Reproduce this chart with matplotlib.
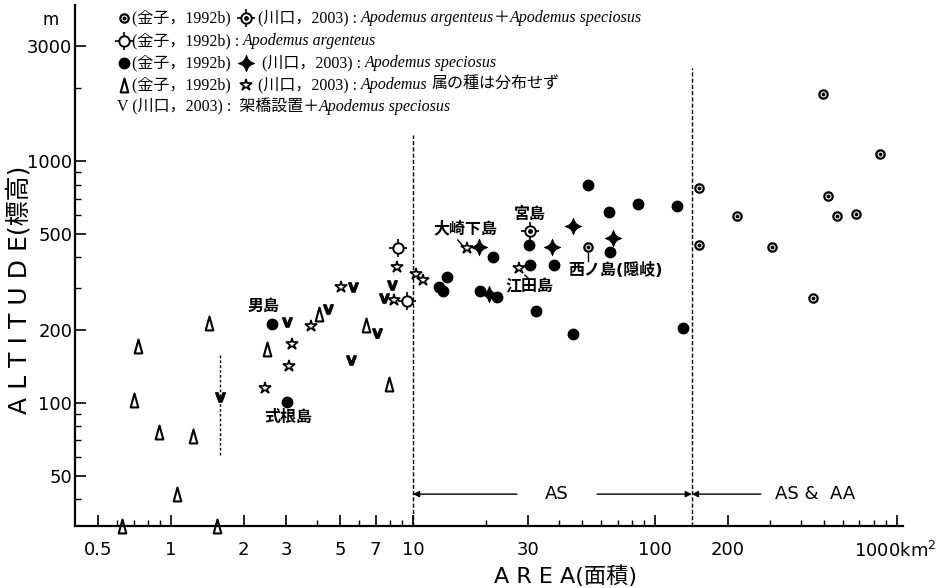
import numpy as np
import matplotlib
matplotlib.use("Agg")
import matplotlib.pyplot as plt
from matplotlib.path import Path
from matplotlib.transforms import offset_copy

jp = ['DejaVu Sans', 'Noto Sans CJK JP']
serif_jp = ['Liberation Serif', 'Noto Sans CJK JP']

# ---- data (area km2, altitude m) ----
# Kaneko 1992b : A. argenteus + A. speciosus
kb_area = [52.9, 152, 152, 218, 304, 450, 494, 519, 565, 677, 851]
kb_alt = [441, 773, 450, 593, 441, 272, 1890, 717, 593, 604, 1068]
# Kawaguchi 2003 : A. argenteus + A. speciosus
wb_area = [30.4]
wb_alt = [514]
# Kaneko 1992b : A. argenteus
ka_area = [8.67, 9.44]
ka_alt = [437, 264]
# Kaneko 1992b : A. speciosus
ks_area = [2.61, 3.02, 12.8, 13.3, 13.8, 18.9, 21.4, 22.2, 30.2, 30.4,
           32.2, 38.3, 45.8, 52.9, 64.6, 65.2, 85.1, 123, 131]
ks_alt = [212, 101, 301, 290, 332, 290, 401, 274, 450, 372,
          240, 372, 193, 796, 615, 421, 664, 652, 204]
# Kawaguchi 2003 : A. speciosus
ws_area = [18.7, 20.6, 37.5, 45.8, 67.0]
ws_alt = [441, 282, 441, 539, 481]
# Kaneko 1992b : no Apodemus
kn_area = [0.63, 0.70, 0.73, 0.89, 1.06, 1.23, 1.44, 1.55, 2.49, 4.09, 6.4, 7.96]
kn_alt = [31, 103, 172, 76, 42, 73, 214, 31, 167, 233, 210, 120]
# Kawaguchi 2003 : no Apodemus
wn_area = [2.45, 3.07, 3.16, 3.79, 5.04, 8.35, 8.59, 10.3, 11.0, 16.7, 27.4]
wn_alt = [115, 142, 175, 208, 301, 267, 365, 341, 322, 437, 361]
# Kawaguchi 2003 : bridge + A. speciosus
v_area = [1.59, 3.02, 4.45, 5.54, 5.65, 7.1, 7.59, 8.19]
v_alt = [106, 216, 245, 151, 301, 195, 272, 307]

island_names = ['男島', '式根島', '大崎下島', '宮島', '江田島', '西ノ島(隠岐)']
island_x = [2.42, 3.04, 16.4, 30.4, 30.4, 68.4]
island_y = [250, 87.5, 524, 604, 301, 355]
leader_x = [[15.3, 16.1], [29.0, 30.2], [52.9, 52.9]]
leader_y = [[472, 446], [338, 325], [417, 386]]

bridge_line_x = 1.59
bridge_line_y = [61, 161]
as_left, as_right = 10, 142
as_left_top, as_right_top = 1280, 2420
arrow_alt = 42

x_major = [0.5, 1, 2, 3, 5, 7, 10, 30, 100, 200, 1000]
x_labels = ['0.5', '1', '2', '3', '5', '7', '10', '30', '100', '200', '']
x_minor = [0.6, 0.7, 0.8, 0.9, 4, 6, 8, 9, 20, 40, 50, 60, 70, 80, 90,
           300, 400, 500, 600, 700, 800, 900]
y_major = [50, 100, 200, 500, 1000, 3000]
y_minor = [40, 60, 70, 80, 90, 300, 400, 600, 700, 800, 900, 2000]

# ---- markers ----
r = 0.3
star4 = Path([(0, 1), (r, r), (1, 0), (r, -r), (0, -1), (-r, -r), (-1, 0), (-r, r), (0, 1)],
             closed=True)
tall_tri = Path([(0, 1), (-0.55, -1), (0.55, -1), (0, 1)], closed=True)


def draw(ax, x, y, kind, **kw):
    base = dict(ls='none', color='k', clip_on=False, **kw)
    if kind == 'kb':
        ax.plot(x, y, marker='o', ms=6, mfc='white', mec='k', mew=1.6, **base)
        ax.plot(x, y, marker='o', ms=1.8, mfc='k', mec='k', **base)
    elif kind == 'wb':
        ax.plot(x, y, marker='+', ms=13, mew=1.2, **base)
        ax.plot(x, y, marker='o', ms=7.5, mfc='white', mec='k', mew=1.4, **base)
        ax.plot(x, y, marker='o', ms=2.5, mfc='k', mec='k', **base)
    elif kind == 'ka':
        ax.plot(x, y, marker='+', ms=13, mew=1.2, **base)
        ax.plot(x, y, marker='o', ms=7.5, mfc='white', mec='k', mew=1.4, **base)
    elif kind == 'ks':
        ax.plot(x, y, marker='o', ms=7.5, mfc='k', mec='k', **base)
    elif kind == 'ws':
        ax.plot(x, y, marker=star4, ms=12, mfc='k', mec='k', mew=0.5, **base)
        ax.plot(x, y, marker='o', ms=5.5, mfc='k', mec='k', **base)
    elif kind == 'kn':
        ax.plot(x, y, marker=tall_tri, ms=10, mfc='white', mec='k', mew=1.5, **base)
    elif kind == 'wn':
        ax.plot(x, y, marker='*', ms=9, mfc='white', mec='k', mew=1.2, **base)
    elif kind == 'v':
        ax.plot(x, y, marker=r'$\mathbf{V}$', ms=7, **base)


fig = plt.figure(figsize=(9.42, 5.88), dpi=100)
ax = fig.add_axes([0.0796, 0.1054, 0.879, 0.886])
ax.set_xscale('log')
ax.set_yscale('log')
ax.set_xlim(0.401, 1059)
ax.set_ylim(31, 4416)

for s in ['top', 'right']:
    ax.spines[s].set_visible(False)
for s in ['left', 'bottom']:
    ax.spines[s].set_linewidth(1.6)

ax.set_xticks(x_major)
ax.set_xticklabels(x_labels)
ax.set_xticks(x_minor, minor=True)
ax.set_xticklabels([], minor=True)
ax.set_yticks(y_major)
ax.set_yticklabels([str(v) for v in y_major])
ax.set_yticks(y_minor, minor=True)
ax.set_yticklabels([], minor=True)
ax.tick_params(which='major', direction='in', length=8, width=1.2, labelsize=13)
ax.tick_params(axis='x', which='major', pad=11)
ax.tick_params(axis='y', which='major', pad=2)
ax.tick_params(which='minor', direction='in', length=4.5, width=1.0)
ax.text(1000, 0, '1000km$^2$', fontsize=13, ha='right', va='top',
        transform=offset_copy(ax.get_xaxis_transform(), fig=fig, x=40, y=-15, units='dots'))

# boundaries and arrows
ax.plot([as_left, as_left], [31, as_left_top], ls=(0, (3, 1.5)), lw=1, color='k')
ax.plot([as_right, as_right], [31, as_right_top], ls=(0, (3, 1.5)), lw=1, color='k')
ax.plot([bridge_line_x, bridge_line_x], bridge_line_y, ls=(0, (2, 1.5)), lw=1, color='k')
arw = dict(arrowstyle='-|>', lw=1, color='k', shrinkA=0, shrinkB=0, mutation_scale=9)
ax.annotate('', xy=(as_left, arrow_alt), xytext=(26.9, arrow_alt), arrowprops=arw)
ax.annotate('', xy=(as_right, arrow_alt), xytext=(57.6, arrow_alt), arrowprops=arw)
ax.annotate('', xy=(as_right, arrow_alt), xytext=(274, arrow_alt), arrowprops=arw)
ax.text(39.4, arrow_alt, 'AS', fontsize=13, ha='center', va='center')
ax.text(458, arrow_alt, 'AS &  AA', fontsize=13, ha='center', va='center')

# data
draw(ax, kn_area, kn_alt, 'kn')
draw(ax, wn_area, wn_alt, 'wn')
draw(ax, v_area, v_alt, 'v')
draw(ax, ks_area, ks_alt, 'ks')
draw(ax, ws_area, ws_alt, 'ws')
draw(ax, ka_area, ka_alt, 'ka')
draw(ax, wb_area, wb_alt, 'wb')
draw(ax, kb_area, kb_alt, 'kb')

for name, x, y in zip(island_names, island_x, island_y):
    ax.text(x, y, name, fontsize=11.5, family=jp, weight='bold', ha='center', va='center')
for lx, ly in zip(leader_x, leader_y):
    ax.plot(lx, ly, color='k', lw=1)

# axis titles
ax.text(-0.067, 0.453, 'A L T I T U D E(標高)', transform=ax.transAxes, rotation=90,
        fontsize=18, family=jp, ha='center', va='center')
ax.text(0.593, -0.096, 'A R E A(面積)', transform=ax.transAxes,
        fontsize=16, family=jp, ha='center', va='center')
ax.text(-0.030, 0.971, 'm', transform=ax.transAxes, fontsize=12, ha='center', va='center')

# legend block
renderer = fig.canvas.get_renderer()
sym_w = 15 / ax.bbox.width


def write_line(x, y, parts):
    for kind, s in parts:
        if kind == 'sym':
            draw(ax, [x + sym_w / 2], [y], s, transform=ax.transAxes)
            x += sym_w
        else:
            t = ax.text(x, y, s, transform=ax.transAxes, va='center', ha='left',
                        fontsize=11.5, family=serif_jp,
                        style='italic' if kind == 'it' else 'normal')
            x += t.get_window_extent(renderer).width / ax.bbox.width


lx0 = (117 - 75) / 828
line_y = [(526 - py) / 521 for py in [18, 41, 63, 85, 107]]
write_line(lx0, line_y[0], [('sym', 'kb'), ('rm', '(金子，1992b)  '), ('sym', 'wb'),
                            ('rm', ' (川口，2003) : '), ('it', 'Apodemus argenteus'),
                            ('rm', '＋'), ('it', 'Apodemus speciosus')])
write_line(lx0, line_y[1], [('sym', 'ka'), ('rm', '(金子，1992b) : '),
                            ('it', 'Apodemus argenteus')])
write_line(lx0, line_y[2], [('sym', 'ks'), ('rm', '(金子，1992b)  '), ('sym', 'ws'),
                            ('rm', '  (川口，2003) : '), ('it', 'Apodemus speciosus')])
write_line(lx0, line_y[3], [('sym', 'kn'), ('rm', '(金子，1992b)  '), ('sym', 'wn'),
                            ('rm', ' (川口，2003) : '), ('it', 'Apodemus '),
                            ('rm', '属の種は分布せず')])
write_line(lx0, line_y[4], [('rm', 'V (川口，2003) :  架橋設置＋'),
                            ('it', 'Apodemus speciosus')])

fig.savefig('out.png', dpi=100)
